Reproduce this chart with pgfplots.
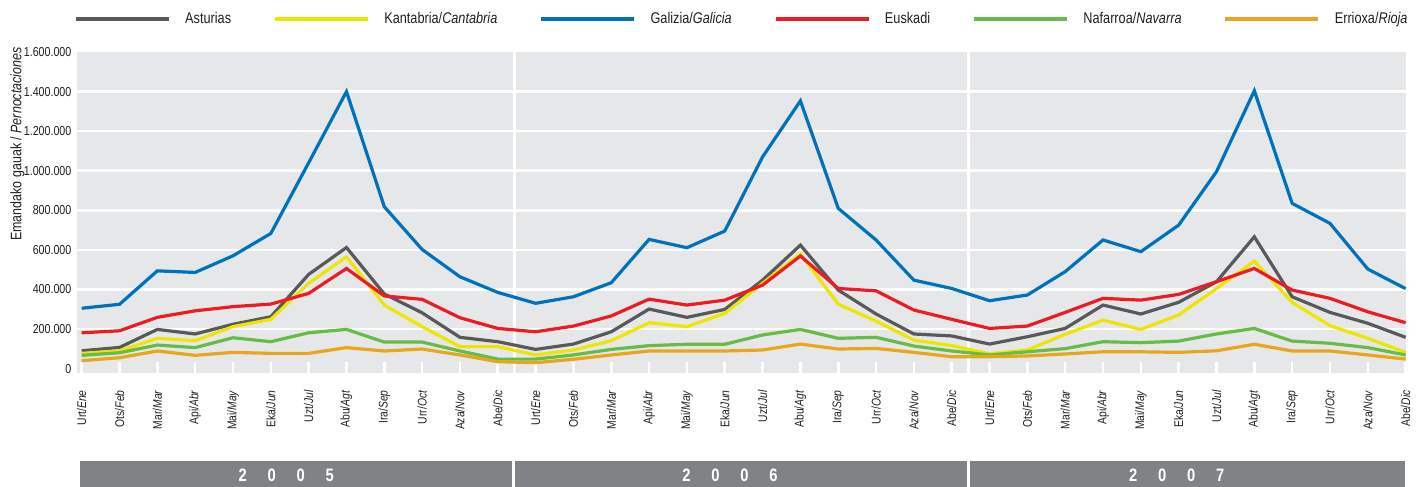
\documentclass[border=0pt]{standalone}
\usepackage{fontspec}
\setmainfont{Liberation Sans}[FakeStretch=0.82]
\usepackage{pgfplots}
\usepackage{pgfplotstable}
\pgfplotsset{compat=1.18}

\definecolor{astgray}{RGB}{88,89,91}
\definecolor{kanyellow}{RGB}{238,229,0}
\definecolor{galblue}{RGB}{0,114,188}
\definecolor{eusred}{RGB}{237,28,36}
\definecolor{navgreen}{RGB}{101,188,70}
\definecolor{rioorange}{RGB}{232,166,28}
\definecolor{bggray}{RGB}{230,231,232}
\definecolor{yeargray}{RGB}{128,130,133}
\definecolor{textcol}{RGB}{35,31,32}

% monthly overnight stays, Jan 2005 .. Dec 2007 (x = month index)
\pgfplotstableread{
x  ast    kan    gal     eus    nav    rio
0  90000  77000  305000  181000 67000  40000
1  107000 90000  325000  191000 80000  55000
2  198000 153000 494000  259000 119000 89000
3  175000 141000 486000  292000 106000 67000
4  224000 212000 570000  313000 156000 82000
5  262000 249000 683000  326000 136000 77000
6  476000 431000 1040000 380000 181000 77000
7  612000 565000 1400000 506000 198000 106000
8  377000 321000 818000  367000 134000 89000
9  282000 212000 602000  350000 134000 99000
10 158000 111000 464000  257000 89000  69000
11 136000 111000 385000  203000 48000  35000
12 97000  69000  330000  186000 48000  30000
13 124000 94000  363000  215000 69000  47000
14 186000 141000 434000  266000 97000  69000
15 301000 232000 653000  351000 116000 89000
16 259000 212000 611000  321000 123000 89000
17 299000 279000 695000  346000 123000 89000
18 447000 431000 1070000 422000 170000 94000
19 624000 579000 1353000 569000 198000 124000
20 397000 326000 810000  405000 153000 99000
21 276000 240000 650000  393000 158000 102000
22 175000 144000 447000  296000 114000 82000
23 165000 116000 405000  249000 89000  60000
24 124000 75000  343000  203000 69000  60000
25 161000 94000  372000  215000 85000  64000
26 203000 173000 490000  284000 101000 74000
27 321000 245000 650000  355000 136000 85000
28 276000 198000 591000  346000 131000 85000
29 335000 271000 725000  375000 139000 82000
30 439000 405000 995000  439000 175000 90000
31 666000 543000 1404000 506000 203000 123000
32 363000 335000 835000  397000 139000 89000
33 284000 217000 734000  355000 128000 89000
34 229000 153000 503000  287000 106000 69000
35 158000 82000  404000  232000 69000  48000
}\nights

\begin{document}
\begin{tikzpicture}
\path[use as bounding box] (-38.5pt,-57.15pt) rectangle (673.5pt,186.35pt);
\begin{axis}[
  scale only axis,
  width=664.5pt, height=160.35pt,
  xmin=-0.124, xmax=35.01,
  ymin=-20700, ymax=1600000,
  clip=false,
  axis background/.style={fill=bggray},
  axis line style={draw=none},
  xtick={0,...,35},
  xticklabels={
    Urt/\textit{Ene},Ots/\textit{Feb},Mar/\textit{Mar},Api/\textit{Abr},Mai/\textit{May},Eka/\textit{Jun},
    Uzt/\textit{Jul},Abu/\textit{Agt},Ira/\textit{Sep},Urr/\textit{Oct},Aza/\textit{Nov},Abe/\textit{Dic},
    Urt/\textit{Ene},Ots/\textit{Feb},Mar/\textit{Mar},Api/\textit{Abr},Mai/\textit{May},Eka/\textit{Jun},
    Uzt/\textit{Jul},Abu/\textit{Agt},Ira/\textit{Sep},Urr/\textit{Oct},Aza/\textit{Nov},Abe/\textit{Dic},
    Urt/\textit{Ene},Ots/\textit{Feb},Mar/\textit{Mar},Api/\textit{Abr},Mai/\textit{May},Eka/\textit{Jun},
    Uzt/\textit{Jul},Abu/\textit{Agt},Ira/\textit{Sep},Urr/\textit{Oct},Aza/\textit{Nov},Abe/\textit{Dic}},
  xtick pos=bottom,
  xtick style={white, line width=1.3pt},
  major tick length=5.35pt,
  xticklabel style={rotate=90, anchor=east, inner sep=0pt, font=\fontsize{6.3}{7}\selectfont, text=textcol},
  xticklabel shift=8.65pt,
  ytick={0,200000,...,1600000},
  ytick style={draw=none},
  scaled y ticks=false,
  yticklabel style={anchor=east, inner sep=0pt, xshift=-2.65pt, font=\fontsize{6.5}{7}\selectfont, text=textcol,
    /pgf/number format/.cd, fixed, precision=0, 1000 sep={.}, assume math mode=true},
  extra y ticks={200000,400000,...,1400000},
  extra y tick labels={},
  extra y tick style={grid=major, major grid style={white, line width=1.3pt}},
  legend columns=6,
  legend image code/.code={\draw[#1, line width=1.8pt] (0pt,0pt) -- (46.5pt,0pt);},
  legend style={draw=none, fill=none, inner sep=0pt, outer sep=0pt,
    at={(0,1)}, anchor=west, xshift=-1.5pt, yshift=16.5pt,
    font=\fontsize{7.75}{8}\selectfont, text=textcol,
    nodes={inner sep=0pt},
    /tikz/every even column/.append style={column sep=21pt},
    /tikz/every odd column/.append style={column sep=7.3pt}},
]

% year separators
\draw[white, line width=1.5pt] (axis cs:11.43,-20700) -- (axis cs:11.43,1600000);
\draw[white, line width=1.5pt] (axis cs:23.45,-20700) -- (axis cs:23.45,1600000);

\addplot[astgray, line width=1.6pt] table[x=x, y=ast] {\nights};
\addlegendentry{Asturias}
\addplot[kanyellow, line width=1.6pt] table[x=x, y=kan] {\nights};
\addlegendentry{Kantabria/\textit{Cantabria}}
\addplot[galblue, line width=1.6pt] table[x=x, y=gal] {\nights};
\addlegendentry{Galizia/\textit{Galicia}}
\addplot[eusred, line width=1.6pt] table[x=x, y=eus] {\nights};
\addlegendentry{Euskadi}
\addplot[navgreen, line width=1.6pt] table[x=x, y=nav] {\nights};
\addlegendentry{Nafarroa/\textit{Navarra}}
\addplot[rioorange, line width=1.6pt] table[x=x, y=rio] {\nights};
\addlegendentry{Errioxa/\textit{Rioja}}

% year bars
\fill[yeargray] (axis cs:-0.045,-466600) rectangle (axis cs:11.37,-598000);
\fill[yeargray] (axis cs:11.45,-466600) rectangle (axis cs:23.40,-598000);
\fill[yeargray] (axis cs:23.48,-466600) rectangle (axis cs:34.98,-598000);
\node[white, font=\fontsize{9}{10}\selectfont\bfseries] at (axis cs:5.41,-537400) {2\hspace{10.4pt}0\hspace{10.4pt}0\hspace{10.4pt}5};
\node[white, font=\fontsize{9}{10}\selectfont\bfseries] at (axis cs:17.14,-537400) {2\hspace{10.4pt}0\hspace{10.4pt}0\hspace{10.4pt}6};
\node[white, font=\fontsize{9}{10}\selectfont\bfseries] at (axis cs:28.95,-537400) {2\hspace{10.4pt}0\hspace{10.4pt}0\hspace{10.4pt}7};
\end{axis}

\node[rotate=90, anchor=south east, inner sep=0pt, font=\fontsize{7.6}{8}\selectfont, text=textcol]
  at (-26pt,162.85pt) {Emandako gauak / \textit{Pernoctaciones}};
\end{tikzpicture}
\end{document}
